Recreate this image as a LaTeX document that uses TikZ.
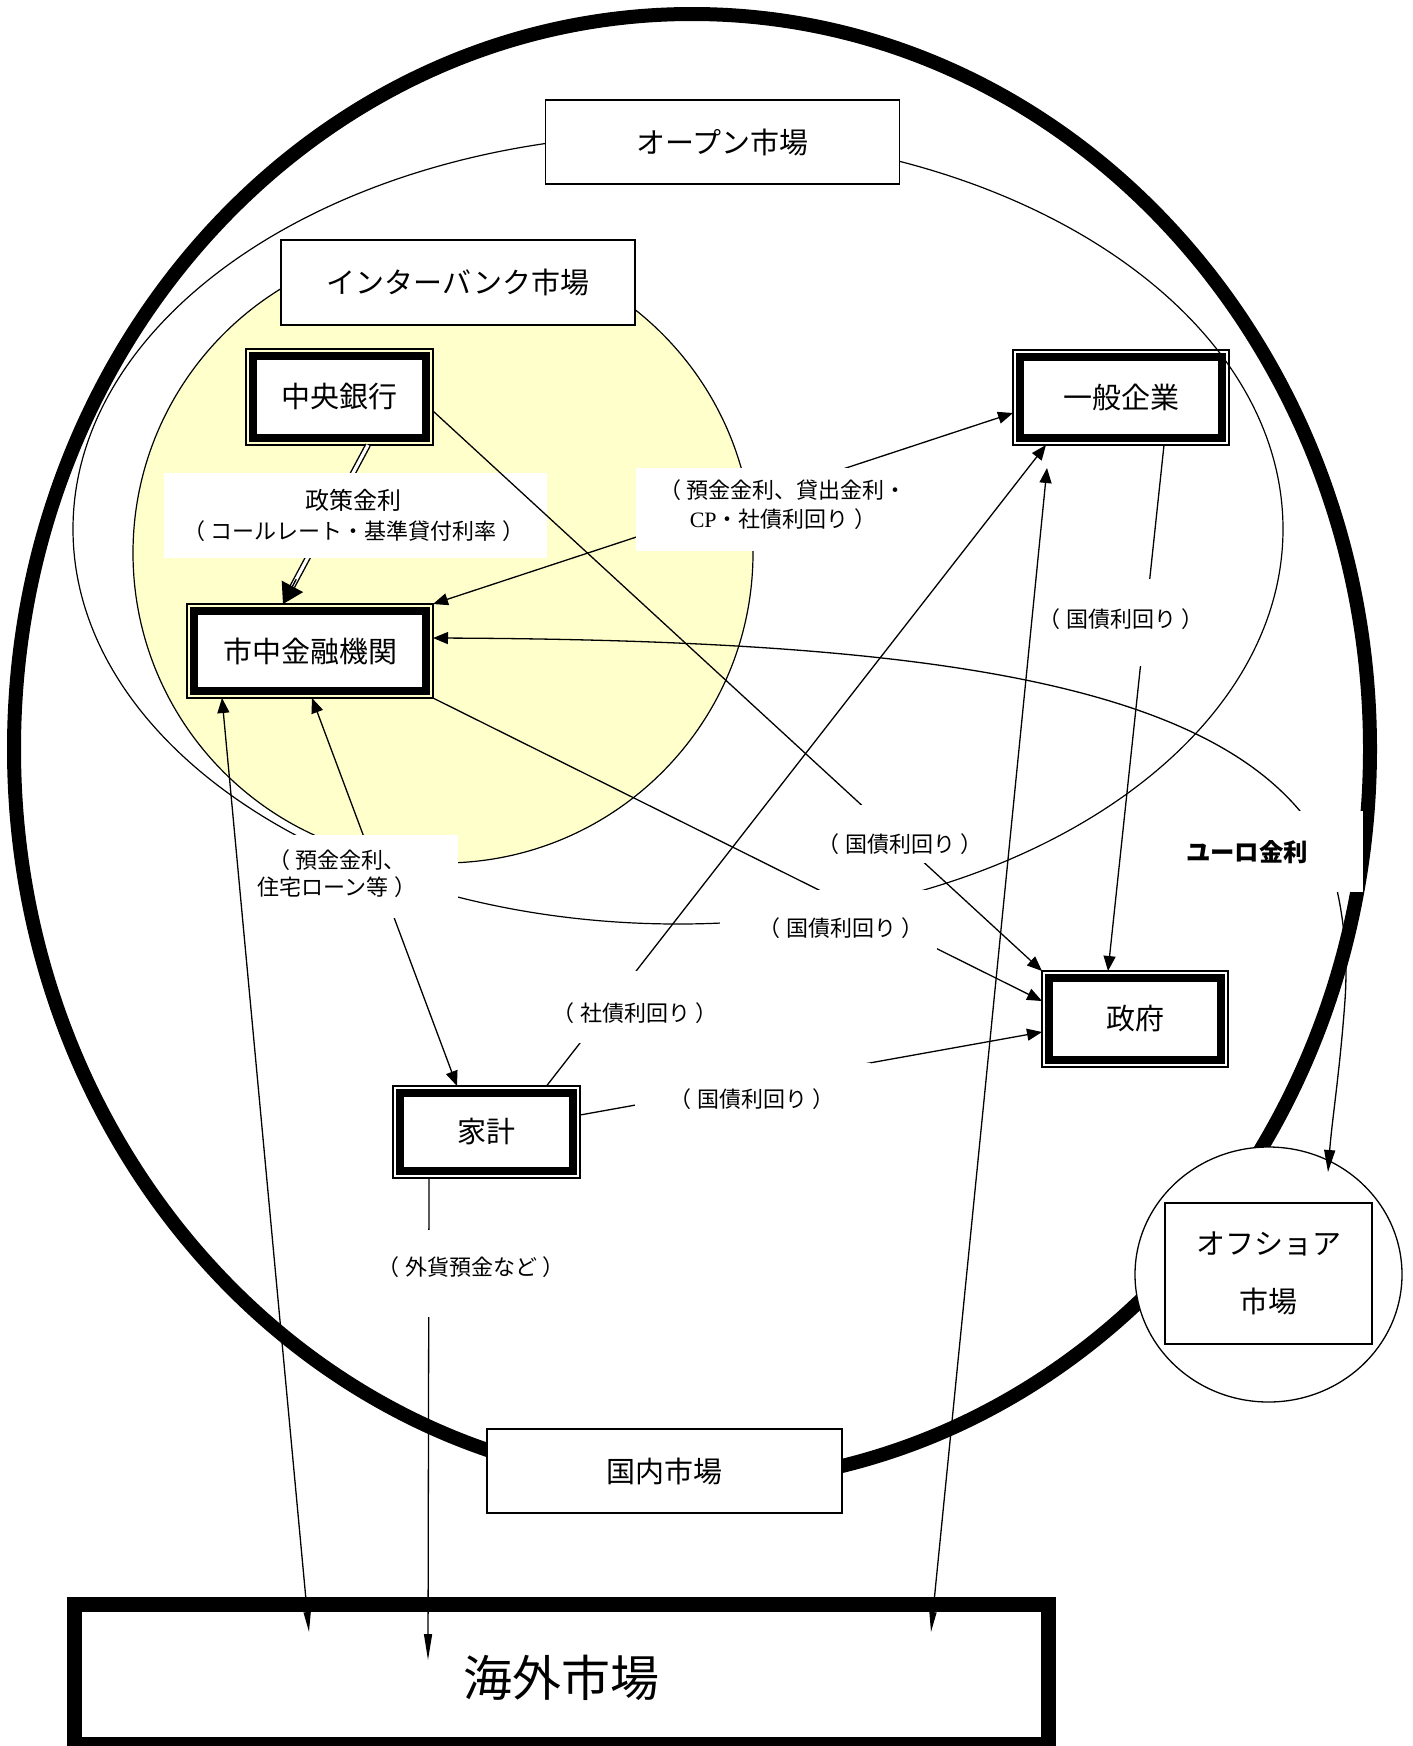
\documentclass[tikz,border=0pt]{standalone}
\usepackage{fontspec}
\setmainfont{Noto Sans CJK JP}
\newfontfamily\latinserif{Liberation Serif}
\usetikzlibrary{arrows.meta,calc,shapes.geometric}
\definecolor{ybg}{RGB}{255,255,204}
\tikzset{
  myT/.tip={Triangle[length=7.5pt,width=6pt]},
  myN/.tip={Triangle[length=10pt,width=3.5pt]},
  myE/.tip={Triangle[length=11pt,width=5.5pt]},
  myD/.tip={Triangle[length=10pt,width=12pt]},
}
\newcommand{\lp}{（\hspace{0.25em}}
\newcommand{\rp}{\hspace{0.25em}）}
\begin{document}
\begin{tikzpicture}[x=0.5pt,y=-0.5pt,
  thinbox/.style={draw,line width=0.65pt,fill=white,inner sep=0pt,outer sep=0pt,font=\fontsize{14.5}{17}\selectfont},
  dbl/.style={draw,line width=0.55pt,inner sep=0pt,outer sep=0pt,font=\fontsize{14.5}{17}\selectfont,
    path picture={\draw[line width=3.8pt,fill=white]
      ([shift={(3.6pt,3.6pt)}]path picture bounding box.south west) rectangle
      ([shift={(-3.6pt,-3.6pt)}]path picture bounding box.north east);}},
  lbl/.style={inner sep=0pt,font=\fontsize{11}{14}\selectfont,align=center},
  conn/.style={line width=0.65pt},
]
\fill[white] (0,0) rectangle (1413,1746);
\useasboundingbox (0,0) rectangle (1413,1746);

% market regions
\draw[line width=7pt] (692,749) ellipse [x radius=339pt, y radius=367.5pt];
\draw[line width=0.6pt] (678,529) ellipse [x radius=302.5pt, y radius=197.5pt];
\draw[line width=0.6pt,fill=ybg] (443,553) ellipse [x radius=155pt, y radius=155pt];

\node[thinbox,minimum width=177pt,minimum height=42pt] (om) at (722.5,142) {オープン市場};
\node[thinbox,minimum width=177pt,minimum height=42.5pt] (ib) at (458,282.5) {インターバンク市場};
\node[thinbox,minimum width=177.5pt,minimum height=42pt] (dm) at (664.5,1471) {国内市場};
\node[draw,ellipse,line width=0.65pt,fill=white,inner sep=0pt,minimum width=133.5pt,minimum height=127.5pt] (of) at (1268.5,1274.5) {};
\node[thinbox,line width=0.8pt,minimum width=103.5pt,minimum height=70.5pt,align=center,font=\fontsize{14.5}{29}\selectfont] (ofb) at (1268.5,1273.5) {オフショア\\市場};

% actors
\node[dbl,minimum width=93.5pt,minimum height=48pt] (cb) at (339.5,397) {中央銀行};
\node[dbl,minimum width=123pt,minimum height=47pt] (sk) at (310,651) {市中金融機関};
\node[dbl,minimum width=108pt,minimum height=47.5pt] (ik) at (1121,397.5) {一般企業};
\node[dbl,minimum width=93pt,minimum height=48pt] (sf) at (1135,1019) {政府};
\node[dbl,minimum width=93.5pt,minimum height=46pt] (kk) at (486.5,1132) {家計};

\node[draw,line width=7.5pt,inner sep=0pt,outer sep=0pt,minimum width=487pt,minimum height=70pt] (kg) at (561.5,1674.5) {};
\node[inner sep=0pt,font=\fontsize{24.5}{29}\selectfont] (kgt) at (561,1678) {海外市場};

% policy rate (double line)
\coordinate (d1) at ($(cb.south)+(28.5,0)$);
\coordinate (d2) at ($(sk.north)+(-27,0)$);
\draw[line width=0.7pt,double,double distance=1.6pt] (d1) -- ($(d2)!8pt!(d1)$);
\draw[line width=0.7pt,-{myD}] ($(d2)!14pt!(d1)$) -- (d2);
\fill[white] (164,473) rectangle (547,558);
\node[lbl,font=\fontsize{11}{15}\selectfont] (lp) at (353.5,515) {{\fontsize{12}{15}\selectfont 政策金利}\\\lp コールレート・基準貸付利率\rp};

% connectors
\draw[conn,{myT}-{myT}] (sk.north east) -- ($(ik.west)+(0,15.5)$);
\draw[conn,-{myT}] ($(cb.east)+(0,14)$) -- (sf.north west);
\draw[conn,-{myT}] (sk.south east) -- ($(sf.west)+(0,-18)$);
\draw[conn,-{myT}] ($(kk.north)+(60,0)$) -- ($(ik.south west)+(33,0)$);
\draw[conn,-{myT}] ($(kk.east)+(0,-17)$) -- ($(sf.west)+(0,13)$);
\draw[conn,-{myT}] ($(ik.south)+(43,0)$) -- ($(sf.north)+(-27,0)$);
\draw[conn,{myT}-{myT}] ($(sk.south)+(2,0)$) -- ($(kk.north)+(-29.5,0)$);
\draw[conn,{myT}-{myN}] ($(sk.south west)+(35,0)$) -- ($(kg.north west)+(234.5,27.5)$);
\draw[conn,-{Triangle[length=13pt,width=4pt]}] ($(kk.south)+(-57.5,0)$) -- ($(kg.north west)+(353.5,55.5)$);
\draw[conn,{myT}-{myN}] ($(ik.south west)+(34,23)$) -- ($(kg.north west)+(856.5,27.5)$);
\draw[conn,{myT}-{myE}] ($(sk.east)+(0,-13)$) .. controls (910,640) and (1190,680) .. (1300,811)
   .. controls (1335,846) and (1350,930) .. (1345,1000)
   .. controls (1340,1070) and (1332,1120) .. ($(of.center)+(59.5,-102.5)$);

% labels
\fill[white] (636,468) rectangle (930,551);
\node[lbl,font=\fontsize{11}{14.5}\selectfont] (ly) at (783,505) {\lp 預金金利、貸出金利・\\{\latinserif CP}・社債利回り\rp};
\fill[white] (797,805) rectangle (990,863);
\node[lbl] (l1) at (900,844) {\lp 国債利回り\rp};
\fill[white] (720,890) rectangle (937,962);
\node[lbl] (l2) at (841,928) {\lp 国債利回り\rp};
\fill[white] (535,971) rectangle (735,1043);
\node[lbl] (l3) at (635,1013) {\lp 社債利回り\rp};
\fill[white] (635,1063) rectangle (871,1135);
\node[lbl] (l4) at (752,1099) {\lp 国債利回り\rp};
\fill[white] (1041,579) rectangle (1202,666);
\node[lbl] (l5) at (1121,619) {\lp 国債利回り\rp};
\fill[white] (250,835) rectangle (458,918);
\node[lbl,font=\fontsize{11}{13.5}\selectfont] (l6) at (337,873.5) {\lp 預金金利、\\住宅ローン等\rp};
\fill[white] (356,1230) rectangle (586,1317);
\node[lbl] (l7) at (471,1267) {\lp 外貨預金など\rp};
\fill[white] (1131,811) rectangle (1363,892);
\node[lbl,font=\fontsize{12.2}{15}\selectfont\bfseries] (le) at (1247,852) {ユーロ金利};
\end{tikzpicture}
\end{document}
